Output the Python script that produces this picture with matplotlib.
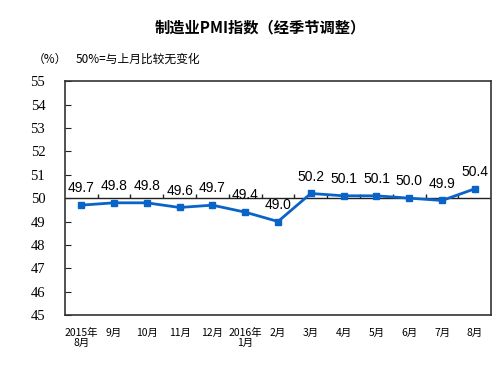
import matplotlib
matplotlib.use('Agg')
import matplotlib.pyplot as plt
import numpy as np

# 数据
months = ['2015年\n8月', '9月', '10月', '11月', '12月', '2016年\n1月', '2月',
          '3月', '4月', '5月', '6月', '7月', '8月']
pmi = [49.7, 49.8, 49.8, 49.6, 49.7, 49.4, 49.0, 50.2, 50.1, 50.1, 50.0, 49.9, 50.4]
yticks = [45, 46, 47, 48, 49, 50, 51, 52, 53, 54, 55]

cjk = ['Noto Sans CJK SC', 'DejaVu Sans']
line_color = '#0a64c8'

fig = plt.figure(figsize=(4.98, 3.67), dpi=100)
ax = fig.add_axes([0.13, 0.1417, 0.8565, 0.6368])

x = np.arange(len(pmi))
ax.plot(x, pmi, color=line_color, lw=2, marker='s', ms=4.5, zorder=3)

for xi, v in zip(x, pmi):
    ax.annotate(f'{v:.1f}', (xi, v), xytext=(0, 12), textcoords='offset points',
                ha='center', va='center', fontsize=10, family='Liberation Sans')

# 50 参考线和刻度
ax.axhline(50, color='#222222', lw=1, zorder=2)
ax.vlines(x[:-1] + 0.5, 50, 50.17, color='#222222', lw=1, zorder=2)

ax.set_xlim(-0.5, len(pmi) - 0.5)
ax.set_ylim(45, 55)
ax.set_yticks(yticks)
ax.set_yticklabels([str(t) for t in yticks])
for t in ax.get_yticklabels():
    t.set_fontfamily('Liberation Serif')
    t.set_fontsize(10.5)
ax.tick_params(axis='y', direction='in', length=4, pad=14, color='#222222')
ax.set_xticks(x)
ax.set_xticklabels(months, family=cjk, fontsize=7.5, linespacing=1.1)
ax.tick_params(axis='x', length=0, pad=9)

for s in ax.spines.values():
    s.set_color('#333333')
    s.set_linewidth(1.2)

fig.text(0.522, 0.926, '制造业PMI指数（经季节调整）', family=cjk, fontsize=11,
         fontweight='bold', ha='center', va='center')
fig.text(0.066, 0.839, '（%）', family=cjk, fontsize=8.5, ha='left', va='center')
fig.text(0.151, 0.839, '50%=与上月比较无变化', family=cjk, fontsize=8.5,
         ha='left', va='center')

fig.savefig('out.png', dpi=100)
